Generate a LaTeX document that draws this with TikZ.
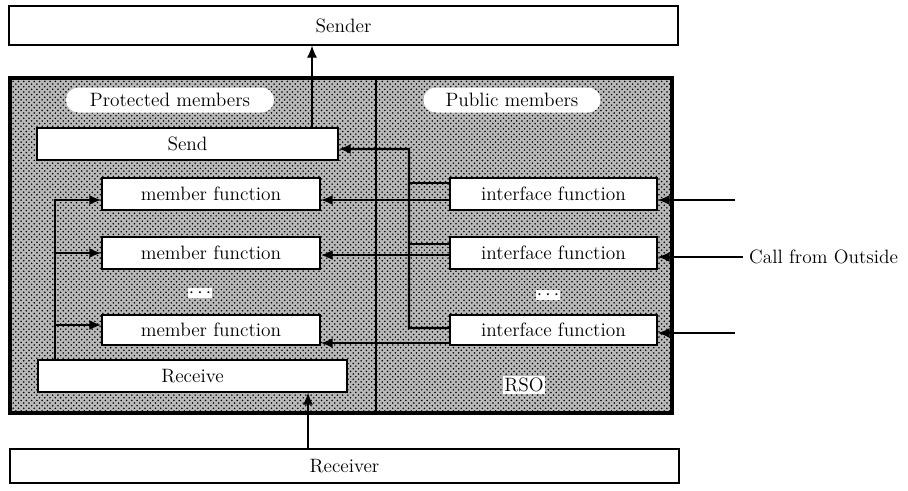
\documentclass[tikz,border=0pt]{standalone}
\usetikzlibrary{patterns,arrows.meta}

\begin{document}
\begin{tikzpicture}[every node/.style={font=\fontsize{11}{13}\selectfont},
  >={Latex[length=2.4mm,width=2mm]},
  outbox/.style={draw,thick,fill=white,minimum width=13.38cm,inner sep=0pt},
  funcbox/.style={draw,thick,fill=white,minimum height=0.64cm,inner sep=0pt},
  blob/.style={fill=white,rounded corners=7pt,inner sep=0pt,minimum height=0.5cm},
  link/.style={line width=1.2pt}]
\useasboundingbox (0,0) rectangle (18.16,9.8);
% the object and its two partners
\node [draw,line width=2pt,preaction={fill=gray!55},pattern=crosshatch dots,
  minimum width=13.24cm,minimum height=6.7cm] (rso) at (6.82,4.89) {};
\node [outbox,minimum height=0.78cm] (sender) at (6.87,9.29) {Sender};
\node [outbox,minimum height=0.68cm] (receiver) at (6.89,0.48) {Receiver};
\node [blob,minimum width=4.16cm] (prot) at (3.4,7.8) {Protected members};
\node [blob,minimum width=3.54cm] (pub) at (10.24,7.8) {Public members};
\node [fill=white,inner sep=1pt] (rsolabel) at (10.48,2.1) {RSO};
\draw[link] ([xshift=0.7cm]rso.north) -- ([xshift=0.7cm]rso.south);
% boxes
\node [funcbox,minimum width=6.02cm] (send) at (3.75,6.92) {Send};
\node [funcbox,minimum width=6.18cm] (receive) at (3.85,2.28) {Receive};
\node [funcbox,minimum width=4.36cm] (mf1) at (4.22,5.92) {member function};
\node [funcbox,minimum width=4.36cm] (mf2) at (4.22,4.74) {member function};
\node [funcbox,minimum width=4.36cm,minimum height=0.6cm] (mf3) at (4.22,3.2) {member function};
\node [funcbox,minimum width=4.14cm] (if1) at (11.07,5.92) {interface function};
\node [funcbox,minimum width=4.14cm] (if2) at (11.07,4.74) {interface function};
\node [funcbox,minimum width=4.14cm,minimum height=0.6cm] (if3) at (11.07,3.2) {interface function};
\node [fill=white,inner sep=0.5pt] (mdots) at (4.0,3.94) {$\cdots$};
\node [fill=white,inner sep=0.5pt] (idots) at (10.96,3.9) {$\cdots$};
% to sender, from receiver
\coordinate (sendout) at ([xshift=2.49cm]send.north);
\coordinate (recvin) at ([xshift=2.31cm]receive.south);
\draw[->,semithick] (sendout) -- (sendout |- sender.south);
\draw[->,semithick] (recvin |- receiver.north) -- (recvin);
% interface -> send
\draw[link,->] ([yshift=0.04cm]if3.west) -| (8.18,6.82) -- ([yshift=-0.1cm]send.east);
\draw[link] ([yshift=0.22cm]if1.west) -- ++(-0.82,0);
\draw[link] ([yshift=0.18cm]if2.west) -- ++(-0.82,0);
% interface -> member
\draw[link,->] ([yshift=-0.12cm]if1.west) -- ([yshift=-0.12cm]mf1.east);
\draw[link,->] ([yshift=-0.04cm]if2.west) -- ([yshift=-0.04cm]mf2.east);
\draw[link,->] ([yshift=-0.26cm]if3.west) -- ([yshift=-0.26cm]mf3.east);
% receive -> member
\coordinate (loopx) at (1.1,0);
\draw[link,->] (loopx |- receive.north) |- ([yshift=-0.12cm]mf1.west);
\draw[link,->] (loopx |- mf2.west) -- (mf2.west);
\draw[link,->] ([yshift=0.1cm]loopx |- mf3.west) -- ([yshift=0.1cm]mf3.west);
% calls from outside
\node [anchor=west] (call) at (14.86,4.66) {Call from Outside};
\coordinate (out1) at (14.7,5.8);
\coordinate (out3) at (14.7,3.14);
\draw[->,thick] (out1) -- (out1 -| if1.east);
\draw[->,thick] (call.west) -- (call.west -| if2.east);
\draw[->,thick] (out3) -- (out3 -| if3.east);
\end{tikzpicture}
\end{document}
